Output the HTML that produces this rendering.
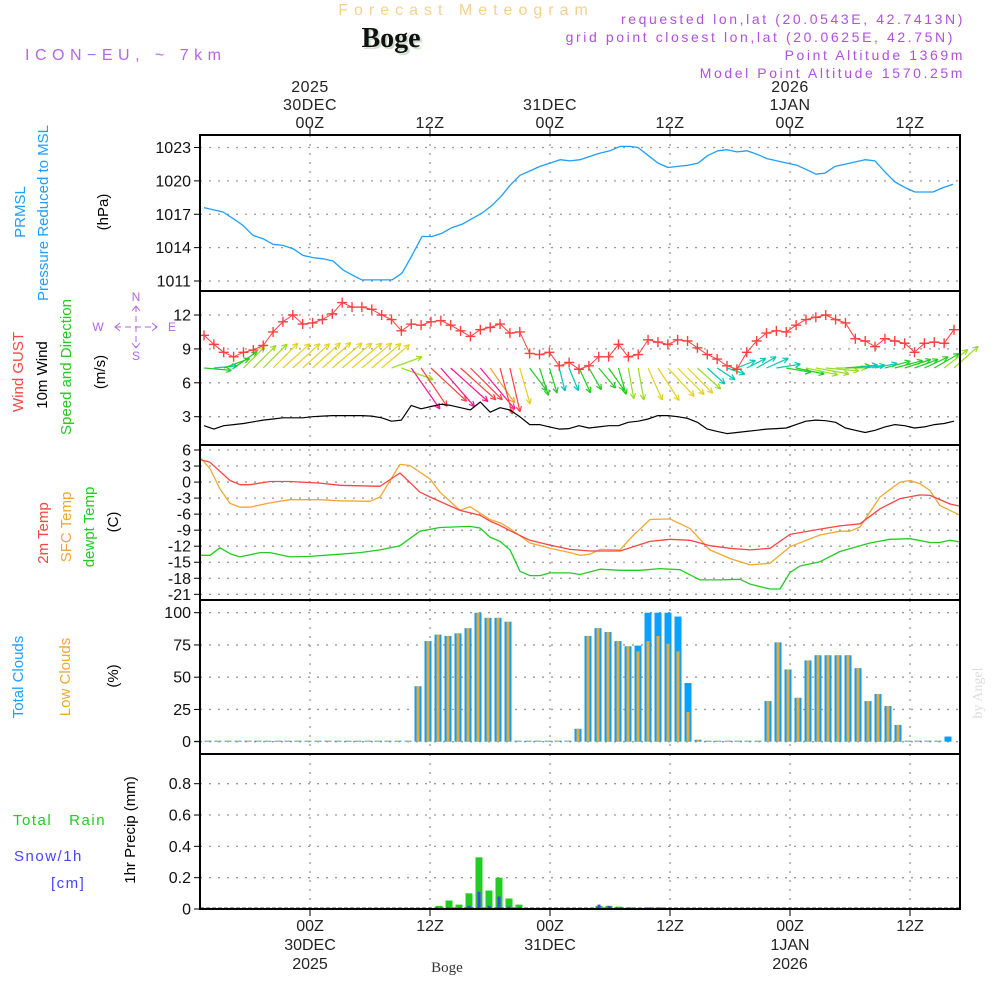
<!DOCTYPE html>
<html><head><meta charset="utf-8"><style>
html,body{margin:0;padding:0;background:#fff;}
svg{display:block;font-family:"Liberation Sans",sans-serif;}
</style></head><body>
<svg id="chart" width="1000" height="1000" viewBox="0 0 1000 1000" xmlns="http://www.w3.org/2000/svg">
<g id="static">
<text x="466" y="15" text-anchor="middle" font-size="16" fill="#f6d08c" letter-spacing="6">Forecast Meteogram</text>
<text x="393" y="49" text-anchor="middle" font-size="28" font-weight="bold" font-family="Liberation Serif,serif" fill="#cfe0cf">Boge</text>
<text x="391" y="47" text-anchor="middle" font-size="28" font-weight="bold" font-family="Liberation Serif,serif" fill="#111">Boge</text>
<text x="25" y="60" font-size="16" fill="#b366e6" letter-spacing="5.5">ICON−EU, ~ 7km</text>
<g font-size="14" fill="#b050e0" text-anchor="end" letter-spacing="2.6">
<text x="965" y="24">requested lon,lat (20.0543E, 42.7413N)</text>
<text x="955" y="42">grid point closest lon,lat (20.0625E, 42.75N)</text>
<text x="965" y="60">Point Altitude 1369m</text>
<text x="965" y="78">Model Point Altitude 1570.25m</text>
</g>
<g font-size="15">
<text transform="translate(25,212) rotate(-90)" text-anchor="middle" fill="#1e9fff">PRMSL</text>
<text transform="translate(48,213) rotate(-90)" text-anchor="middle" fill="#1e9fff">Pressure Reduced to MSL</text>
<text transform="translate(108,212) rotate(-90)" text-anchor="middle" fill="#000">(hPa)</text>
<text transform="translate(23,372) rotate(-90)" text-anchor="middle" fill="#ff4444">Wind GUST</text>
<text transform="translate(47,375) rotate(-90)" text-anchor="middle" fill="#000">10m Wind</text>
<text transform="translate(71,367) rotate(-90)" text-anchor="middle" fill="#22cc22">Speed and Direction</text>
<text transform="translate(105,372) rotate(-90)" text-anchor="middle" fill="#000">(m/s)</text>
<text transform="translate(48,533) rotate(-90)" text-anchor="middle" fill="#ff4444">2m Temp</text>
<text transform="translate(71,527) rotate(-90)" text-anchor="middle" fill="#f0a830">SFC Temp</text>
<text transform="translate(94,527) rotate(-90)" text-anchor="middle" fill="#22cc22">dewpt Temp</text>
<text transform="translate(118,522) rotate(-90)" text-anchor="middle" fill="#000">(C)</text>
<text transform="translate(23,677) rotate(-90)" text-anchor="middle" fill="#1e9fff">Total Clouds</text>
<text transform="translate(70,677) rotate(-90)" text-anchor="middle" fill="#f0a830">Low Clouds</text>
<text transform="translate(118,676) rotate(-90)" text-anchor="middle" fill="#000">(%)</text>
<text transform="translate(135,830) rotate(-90)" text-anchor="middle" fill="#000">1hr Precip (mm)</text>
<text x="13" y="825" fill="#22cc22" letter-spacing="1.5">Total&#160;&#160;&#160;Rain</text>
<text x="14" y="861" fill="#4444ff" letter-spacing="1.5">Snow/1h</text>
<text x="51" y="888" fill="#4444ff" letter-spacing="1.5">[cm]</text>
</g>
<g stroke="#b366e6" fill="none" stroke-width="1">
<line x1="115" y1="327" x2="157" y2="327" stroke-dasharray="6,4"/>
<line x1="136" y1="306" x2="136" y2="348" stroke-dasharray="6,4"/>
<polyline points="120,323 115,327 120,331"/><polyline points="152,323 157,327 152,331"/>
<polyline points="132,311 136,306 140,311"/><polyline points="132,343 136,348 140,343"/>
</g>
<g font-size="12" fill="#b366e6" text-anchor="middle">
<text x="136" y="301">N</text><text x="136" y="360">S</text><text x="98" y="331">W</text><text x="172" y="331">E</text>
</g>
<text transform="translate(982,693) rotate(-90)" text-anchor="middle" font-size="14" font-family="Liberation Serif,serif" fill="#dcdcdc">by Angel</text>
<text x="447" y="972" text-anchor="middle" font-size="15" font-family="Liberation Serif,serif" fill="#333">Boge</text>
</g>
<g id="grid"></g><g id="marks"></g><g id="frames"></g>
</svg>
<script>
// ---- data ----
const timeTickHours = [0, 12, 24, 36, 48, 60];
const topTickLines = [["2025","30DEC","00Z"],["","","12Z"],["","31DEC","00Z"],["","","12Z"],["2026","1JAN","00Z"],["","","12Z"]];
const bottomTickLines = [["00Z","30DEC","2025"],["12Z","",""],["00Z","31DEC",""],["12Z","",""],["00Z","1JAN","2026"],["12Z","",""]];
const pressTicks = [1011, 1014, 1017, 1020, 1023];
const windTicks = [3, 6, 9, 12];
const tempTicks = [6, 3, 0, -3, -6, -9, -12, -15, -18, -21];
const cloudTicks = [0, 25, 50, 75, 100];
const precipTicks = [0, 0.2, 0.4, 0.6, 0.8];
const precipTickLabels = ["0", "0.2", "0.4", "0.6", "0.8"];

const pressHours = [-10.6,-8.7,-7.5,-6.7,-5.7,-4.7,-3.7,-2.7,-1.7,-0.7,0.3,1.3,2.3,3.3,4.3,5.2,6.2,8.2,9.2,10.2,11.2,12.2,13.2,14.2,15.2,16.2,17.2,18.2,19.2,20,21,22,23,24,25,26,27,28,29,30,31,32,32.8,33.8,34.8,35.8,36.8,37.8,38.8,39.8,40.8,41.7,42.7,43.7,44.7,45.7,46.7,47.7,48.7,49.7,50.6,51.5,52.5,53.5,54.5,55.5,56.5,57.5,58.5,59.5,60.5,62.3,63.3,64.3];
const pressValues = [1017.6,1017.2,1016.5,1016.0,1015.1,1014.8,1014.3,1014.2,1013.9,1013.3,1013.1,1013.0,1012.8,1012.0,1011.5,1011.1,1011.1,1011.1,1011.7,1013.3,1015.0,1015.0,1015.3,1015.8,1016.1,1016.6,1017.1,1017.8,1018.7,1019.6,1020.5,1020.9,1021.3,1021.6,1021.9,1021.8,1021.9,1022.2,1022.5,1022.7,1023.1,1023.1,1023.0,1022.3,1021.6,1021.2,1021.3,1021.4,1021.6,1022.3,1022.7,1022.8,1022.6,1022.7,1022.4,1022.0,1021.8,1021.6,1021.4,1021.0,1020.6,1020.7,1021.3,1021.5,1021.7,1021.9,1021.8,1020.8,1019.9,1019.4,1019.0,1019.0,1019.4,1019.7];

const windStartHour = -10.6;
const windEndHour = 64.4;
const gustValues = [10.2,9.4,8.7,8.3,8.7,8.9,9.3,10.5,11.4,12.0,11.2,11.3,11.6,12.1,13.1,12.7,12.7,12.5,12.0,11.6,10.6,11.2,11.1,11.4,11.5,11.1,10.6,10.1,10.7,10.9,11.2,10.4,10.5,8.6,8.5,8.7,7.5,7.8,7.2,7.5,8.3,8.3,9.4,8.3,8.5,9.8,9.6,9.4,9.8,9.7,9.1,8.5,8.1,7.5,7.2,8.7,9.7,10.4,10.6,10.5,11.1,11.6,11.8,12.0,11.6,11.3,9.9,9.7,9.2,9.9,9.7,9.5,8.7,9.5,9.6,9.5,10.7];
const windSpeed = [2.2,1.9,2.2,2.3,2.4,2.55,2.7,2.8,2.9,2.9,2.9,3.0,3.05,3.1,3.1,3.1,3.1,3.05,2.9,2.6,2.7,4.0,3.7,3.9,4.1,4.0,3.8,3.6,4.3,3.4,3.8,3.6,3.0,2.3,2.3,2.1,1.9,1.95,2.2,2.0,2.1,2.2,2.2,2.5,2.6,2.8,3.1,3.1,3.0,2.85,2.5,1.9,1.7,1.5,1.6,1.7,1.8,1.9,1.95,2.0,2.3,2.6,2.7,2.65,2.5,2.0,1.8,1.6,1.8,2.1,2.3,2.2,2.0,2.1,2.3,2.4,2.6];
const windDir = [275,265,250,235,225,225,225,225,228,228,228,228,228,230,230,230,230,230,230,250,290,325,326,313,319,312,312,315,320,325,345,347,344,323,342,343,346,338,335,330,320,325,344,350,350,336,327,317,315,315,312,312,303,289,248,243,240,246,261,280,282,282,280,275,270,265,262,262,258,255,255,252,250,245,240,232,228];

const t2mHours = [-11,-10,-8,-7,-6,-4,-2,1,3,5,7,9,11,12,15,17,18,19,20,22,24,26,28,31,34,36,38,40,42,44,46,48,51,53,55,57,59,61,62,64,65];
const t2mValues = [4.2,3.7,0.3,-0.5,-0.5,0.1,0.1,-0.2,-0.6,-0.7,-0.8,1.7,-1.9,-2.8,-5.3,-6.2,-7.3,-8.1,-9.1,-10.9,-11.8,-12.6,-12.9,-12.9,-11.1,-10.7,-10.9,-11.9,-12.4,-12.7,-12.4,-9.8,-8.8,-8.2,-7.8,-5.0,-3.1,-2.4,-2.5,-4.1,-4.5];
const sfcHours = [-11,-10,-9,-8,-7,-6,-4,-2,1,3,6,7,9,10,12,13,15,16,18,19,20,22,24,26,27,28,29,31,32,34,36,38,40,42,44,46,48,51,53,54,55,57,59,60,61,62,63,65];
const sfcValues = [4.6,2.5,-1.3,-4,-4.7,-4.7,-3.9,-3.3,-3.3,-3.5,-3.6,-2.8,3.3,3.1,0.6,-1.9,-5.3,-4.6,-7.0,-7.6,-8.7,-11.4,-12.4,-13.2,-13.7,-13.5,-12.6,-12.7,-10.6,-7,-6.9,-8.7,-12.7,-14.3,-15.5,-15.2,-12.1,-9.9,-9.2,-9.2,-8.4,-2.8,0,0.3,-0.3,-1.6,-4.4,-6.2];
const dewHours = [-11,-10,-9,-8,-7,-5,-4,-2,0,3,5,7,9,11,13,16,17,18,19,20,21,22,23,24,26,27,29,31,33,35,37,39,41,43,44,46,47,48,49,51,53,55,56,58,60,62,63,64,65];
const dewValues = [-13.7,-13.7,-12.3,-13.4,-14,-13.2,-13.2,-14,-13.9,-13.5,-13.2,-12.7,-11.9,-9.2,-8.5,-8.3,-8.6,-10.3,-11.1,-12.7,-16.7,-17.5,-17.5,-17,-17,-17.3,-16.3,-16.5,-16.5,-16.2,-16.4,-18.3,-18.3,-18.2,-19.1,-20,-20,-16.9,-15.7,-14.9,-13,-11.9,-11.4,-10.7,-10.6,-11.3,-11.3,-10.9,-11.2];

const cloudStartHour = -11;
const totalClouds = [0,0,0,0,0,0,0,0,0,0,0,0,0,0,0,0,0,0,0,0,0,0,
 43,78,83,82,84,88,100,96,96,93,
 0,0,0,0,0,0,
 10,82,88,85,78,74,74.5,100,100,100,97,45.5,1.5,
 0,0,0,0,0,0,
 31.5,77,56,34,63,67,67,67,67,57,31.5,37,27.6,13,
 0,0,0,0,4];
const lowClouds = [0,0,0,0,0,0,0,0,0,0,0,0,0,0,0,0,0,0,0,0,0,0,
 43,78,83,82,84,88,100,96,96,93,
 0,0,0,0,0,0,
 10,82,88,85,78,74,70,78,82,76,70,23,1.5,
 0,0,0,0,0,0,
 31.5,77,56,34,63,67,67,67,67,57,31.5,37,27.6,13,
 0,0,0,0,0];

const precipHours = [13,14,15,16,17,18,19,20,21,29,30,31,32,33,34,35];
const rainValues = [0.02,0.054,0.028,0.1,0.33,0.118,0.2,0.067,0.028,0.02,0.02,0.015,0.01,0,0.01,0.01];
const snowValues = [0,0,0,0.02,0.11,0.02,0.08,0.015,0.01,0.028,0.02,0.006,0.01,0.003,0.01,0.01];

// ---- axes ----
const X0 = 200, X1 = 960;
const xOf = h => 310 + 10 * h;
const lin = (d0, d1, r0, r1) => v => r0 + (v - d0) * (r1 - r0) / (d1 - d0);
const panels = [[135,291],[291,445],[445,600],[600,754],[754,909]];
const yP = lin(1011, 1023, 281, 147.5);
const yW = lin(3, 12, 416.7, 315);
const yT = lin(-21, 6, 594.3, 450);
const yC = lin(0, 100, 741.7, 612.7);
const yR = lin(0, 0.8, 909, 783.7);

const NS = "http://www.w3.org/2000/svg";
function mk(tag, attrs, parent) {
  const e = document.createElementNS(NS, tag);
  for (const k in attrs) e.setAttribute(k, attrs[k]);
  parent.appendChild(e);
  return e;
}
const grid = document.getElementById("grid");
const marks = document.getElementById("marks");
const frames = document.getElementById("frames");

timeTickHours.forEach((h, i) => {
  const x = xOf(h);
  panels.forEach(p => {
    const l = mk("line", {x1:x, y1:p[0], x2:x, y2:p[1], stroke:"#999", "stroke-width":1.3, "stroke-dasharray":"2,7"}, grid);
    
    
  });
  mk("line", {x1:x, y1:128, x2:x, y2:135, stroke:"#000"}, frames);
  mk("line", {x1:x, y1:909, x2:x, y2:916, stroke:"#000"}, frames);
  topTickLines[i].forEach((s, j) => {
    if (!s) return;
    const t = mk("text", {x:x, y:92 + j*18, "text-anchor":"middle", "font-size":"16", fill:"#222", "letter-spacing":"0.5"}, frames);
    t.textContent = s;
    
    
  });
  bottomTickLines[i].forEach((s, j) => {
    if (!s) return;
    const t = mk("text", {x:x, y:931 + j*19, "text-anchor":"middle", "font-size":"16", fill:"#222"}, frames);
    t.textContent = s;
    
    
  });
});

function yAxis(ticks, yf, labels, name) {
  ticks.forEach((v, i) => {
    const y = yf(v);
    const g = mk("line", {x1:X0, y1:y, x2:X1, y2:y, stroke:"#999", "stroke-width":1.3, "stroke-dasharray":"2,7"}, grid);
    
    
    mk("line", {x1:X0-6, y1:y, x2:X0, y2:y, stroke:"#000"}, frames);
    const t = mk("text", {x:X0-9, y:y+5.5, "text-anchor":"end", "font-size":"16", fill:"#111"}, frames);
    t.textContent = labels ? labels[i] : String(v);
    
    
  });
}
yAxis(pressTicks, yP, null, "pressure");
yAxis(windTicks, yW, null, "wind");
yAxis(tempTicks, yT, null, "temp");
yAxis(cloudTicks, yC, null, "cloud");
yAxis(precipTicks, yR, precipTickLabels, "precip");

panels.forEach(p => {
  const r = mk("rect", {x:X0, y:p[0], width:X1-X0, height:p[1]-p[0], fill:"none", stroke:"#000", "stroke-width":2}, frames);
  
  
});

function line(hours, vals, yf, color, name, w) {
  const pts = hours.map((h, i) => xOf(h).toFixed(1) + "," + yf(vals[i]).toFixed(1)).join(" ");
  const pl = mk("polyline", {points:pts, fill:"none", stroke:color, "stroke-width":w || 1.3, "stroke-linejoin":"round"}, marks);
  
  
}
line(pressHours, pressValues, yP, "#1e9fff", "pressure-line");

const wStep = (windEndHour - windStartHour) / (gustValues.length - 1);
const windHours = gustValues.map((_, k) => windStartHour + k * wStep);
function speedColor(s) {
  if (s < 2.0) return "#00c8b4";
  if (s < 2.4) return "#22cc22";
  if (s < 2.75) return "#99dd22";
  if (s < 3.12) return "#e6d020";
  if (s < 3.5) return "#f0a030";
  if (s < 3.95) return "#ff4040";
  return "#ff1493";
}
windDir.forEach((d, k) => {
  const s = windSpeed[k];
  const L = 12.5 * s;
  const rad = (d + 180) * Math.PI / 180;
  const tx = xOf(windHours[k]), ty = 368;
  const hx = tx + L * Math.sin(rad), hy = ty - L * Math.cos(rad);
  const ang = Math.atan2(hy - ty, hx - tx);
  const c = speedColor(s);
  const g = mk("g", {stroke:c, "stroke-width":1.2, fill:"none"}, marks);
  
  
  mk("line", {x1:tx, y1:ty, x2:hx.toFixed(1), y2:hy.toFixed(1)}, g);
  [0.45, -0.45].forEach(a => {
    mk("line", {x1:hx.toFixed(1), y1:hy.toFixed(1), x2:(hx - 6*Math.cos(ang+a)).toFixed(1), y2:(hy - 6*Math.sin(ang+a)).toFixed(1)}, g);
  });
});
line(windHours, windSpeed, yW, "#000", "wind-speed-line", 1.2);
line(windHours, gustValues, yW, "#ff4040", "gust-line", 1);
gustValues.forEach((v, k) => {
  const x = xOf(windHours[k]), y = yW(v);
  const m = mk("path", {d:`M${x-5},${y}H${x+5}M${x},${y-5}V${y+5}`, stroke:"#ff4040", "stroke-width":1.4}, marks);
  
  
});

line(sfcHours, sfcValues, yT, "#f0a830", "sfc-temp-line");
line(t2mHours, t2mValues, yT, "#ff4444", "t2m-line");
line(dewHours, dewValues, yT, "#22cc22", "dewpoint-line");

totalClouds.forEach((v, i) => {
  const x = xOf(cloudStartHour + i) - 2;
  const y0 = yC(0);
  const yt = Math.min(yC(v), y0 - 1), yl = Math.min(yC(lowClouds[i]), y0 - 1);
  const b = mk("rect", {x:x-3.5, y:yt, width:7, height:y0-yt, fill:"#0aa0ff"}, marks);
  
  
  if (lowClouds[i] > 0 || v === 0) {
    const o = mk("rect", {x:x-1.5, y:yl, width:3, height:y0-yl, fill:"#f0a830"}, marks);
    
    
  }
});

precipHours.forEach((h, i) => {
  const x = xOf(h) - 1, y0 = yR(0);
  if (rainValues[i] > 0) {
    const y = yR(rainValues[i]);
    const r = mk("rect", {x:x-3.5, y:y, width:7, height:y0-y, fill:"#22cc22"}, marks);
    
    
  }
  if (snowValues[i] > 0) {
    const y = yR(snowValues[i]);
    const s = mk("rect", {x:x-1.5, y:y, width:3, height:y0-y, fill:"#4444ff"}, marks);
    
    
  }
});
mk("line", {x1:X0, y1:908, x2:X1, y2:908, stroke:"#444", "stroke-width":1, "stroke-dasharray":"4,2"}, marks);
</script>
</body></html>
